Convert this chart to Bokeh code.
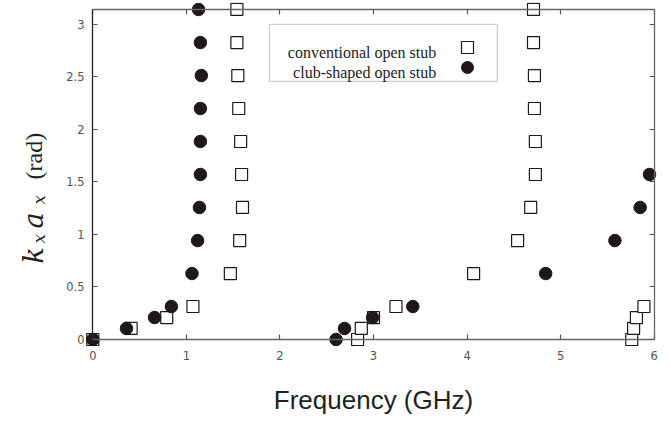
import math
from bokeh.plotting import figure
from bokeh.layouts import row
from bokeh.models import (Range1d, LinearAxis, FixedTicker, Label, BoxAnnotation,
                          Legend, LegendItem)
from bokeh.embed import file_html
from bokeh.resources import INLINE

# ---- data ----
conv_freq = [0.00, 0.41, 0.79, 1.07, 1.47, 1.57, 1.60, 1.59, 1.58, 1.56, 1.55, 1.54, 1.54,
             2.83, 2.87, 3.00, 3.24, 4.07, 4.54, 4.68, 4.73, 4.73, 4.72, 4.72, 4.71, 4.71,
             5.76, 5.78, 5.81, 5.89]
conv_kxax = [0.000, 0.105, 0.209, 0.314, 0.628, 0.942, 1.257, 1.571, 1.885, 2.199, 2.513, 2.827, 3.142,
             0.000, 0.105, 0.209, 0.314, 0.628, 0.942, 1.257, 1.571, 1.885, 2.199, 2.513, 2.827, 3.142,
             0.000, 0.105, 0.209, 0.314]
club_freq = [0.00, 0.36, 0.66, 0.84, 1.06, 1.12, 1.14, 1.15, 1.15, 1.15, 1.16, 1.15, 1.13,
             2.60, 2.69, 2.99, 3.42, 4.84, 5.58, 5.85, 5.95]
club_kxax = [0.000, 0.105, 0.209, 0.314, 0.628, 0.942, 1.257, 1.571, 1.885, 2.199, 2.513, 2.827, 3.142,
             0.000, 0.105, 0.209, 0.314, 0.628, 0.942, 1.257, 1.571]

x_ticks = [0, 1, 2, 3, 4, 5, 6]
x_tick_labels = ["0", "1", "2", "3", "4", "5", "6"]
y_ticks = [0, 0.5, 1, 1.5, 2, 2.5, 3]
y_tick_labels = ["0", "0.5", "1", "1.5", "2", "2.5", "3"]

series_names = ["conventional open stub", "club-shaped open stub"]
x_title = "Frequency (GHz)"

X_MIN, X_MAX = 0, 6
Y_MIN, Y_MAX = 0, math.pi

TITLE_W = 50
H = 418
FRAME_BOTTOM = 346  # page y of the (aligned) frame bottom

p = figure(frame_width=576, frame_height=344,
           x_range=Range1d(-0.078, 6.078), y_range=Range1d(-0.0667, 3.2083),
           output_backend="svg", toolbar_location=None,
           x_axis_location=None, y_axis_location=None,
           min_border_left=35, min_border_right=9, min_border_top=2, min_border_bottom=72)
p.outline_line_color = None
p.background_fill_color = "white"
p.border_fill_color = "white"
p.grid.visible = False

LABEL_COLOR = "#555555"
TICK_COLOR = "#555555"


def label_axis(ax, ticks, labels, standoff):
    ax.ticker = FixedTicker(ticks=ticks)
    ax.major_label_overrides = dict(zip(ticks, labels))
    ax.axis_line_color = None
    ax.major_tick_line_color = None
    ax.minor_tick_line_color = None
    ax.major_tick_in = 0
    ax.major_tick_out = 0
    ax.major_label_standoff = standoff
    ax.major_label_text_font = "DejaVu Sans"
    ax.major_label_text_font_size = "11.5px"
    ax.major_label_text_color = LABEL_COLOR


def edge_axis(ax, ticks, line_color):
    ax.ticker = FixedTicker(ticks=[], minor_ticks=ticks)
    ax.axis_line_color = line_color
    ax.axis_line_width = 1.3
    ax.major_tick_line_color = None
    ax.minor_tick_line_color = TICK_COLOR
    ax.minor_tick_line_width = 1.2
    ax.minor_tick_in = 5
    ax.minor_tick_out = 0
    ax.major_tick_in = 0
    ax.major_tick_out = 0
    ax.major_label_standoff = 0


# tick labels (at the frame edges)
xl = LinearAxis(bounds=(X_MIN, X_MAX + 0.1))
label_axis(xl, x_ticks, x_tick_labels, 4)
xl.axis_label = x_title
xl.axis_label_text_font = "Liberation Sans"
xl.axis_label_text_font_size = "26px"
xl.axis_label_text_font_style = "normal"
xl.axis_label_text_color = "#231f20"
xl.axis_label_standoff = 22
p.add_layout(xl, "below")

yl = LinearAxis(bounds=(Y_MIN, Y_MAX))
label_axis(yl, y_ticks, y_tick_labels, 1)
p.add_layout(yl, "left")

# axis lines + inward ticks along the data box
xb = LinearAxis(fixed_location=Y_MIN, bounds=(X_MIN, X_MAX))
edge_axis(xb, x_ticks, "#666666")
p.add_layout(xb, "below")

xt = LinearAxis(fixed_location=Y_MAX, bounds=(X_MIN, X_MAX))
edge_axis(xt, x_ticks, "#666666")
p.add_layout(xt, "above")

yb = LinearAxis(fixed_location=X_MIN, bounds=(Y_MIN, Y_MAX))
edge_axis(yb, y_ticks, "#222222")
p.add_layout(yb, "left")

yr = LinearAxis(fixed_location=X_MAX, bounds=(Y_MIN, Y_MAX))
edge_axis(yr, y_ticks, "#666666")
p.add_layout(yr, "right")

INK = "#1e1818"
r_conv = p.scatter(conv_freq, conv_kxax, marker="square", size=12,
                   fill_color="white", line_color=INK, line_width=1.2)
r_club = p.scatter(club_freq, club_kxax, marker="circle", size=12.5,
                   fill_color=INK, line_color=INK)

# legend box
box = BoxAnnotation(left=1.888, right=4.324, top=3.0, bottom=2.457,
                    fill_color="white", fill_alpha=1.0,
                    line_color="#555555", line_width=1.2, level="overlay")
p.add_layout(box)

for name, yb_ in zip(series_names, [293.7, 274.0]):
    p.add_layout(Label(x=350.7, y=yb_, x_units="screen", y_units="screen", text=name,
                       text_font="Liberation Serif", text_font_size="16px",
                       text_color="#222222", text_align="right",
                       text_baseline="alphabetic", level="overlay"))

for rend, loc in zip([r_conv, r_club], [(366.7, 284.0), (366.7, 264.3)]):
    leg = Legend(items=[LegendItem(label=" ", renderers=[rend])], location=loc,
                 glyph_width=30, glyph_height=30, padding=0, margin=0, spacing=0,
                 label_standoff=0, label_text_font_size="1px",
                 border_line_color=None, background_fill_alpha=0.0)
    p.add_layout(leg)

# y title in its own narrow panel: k_x a_x (rad)
tfig = figure(width=TITLE_W, height=H, x_range=Range1d(0, TITLE_W), y_range=Range1d(0, H),
              output_backend="svg", toolbar_location=None,
              x_axis_location=None, y_axis_location=None, min_border=0)
tfig.outline_line_color = None
tfig.grid.visible = False

ypart = [("k", 33, 263, "27px", "italic", "DejaVu Serif"),
         ("x", 38, 243, "17px", "italic", "DejaVu Serif"),
         ("a", 33, 228, "27px", "italic", "DejaVu Serif"),
         ("x", 38, 204, "17px", "italic", "DejaVu Serif"),
         ("(rad)", 33, 179, "24px", "normal", "Liberation Serif")]
for txt, xs, ys, fs, st, fnt in ypart:
    tfig.add_layout(Label(x=xs, y=FRAME_BOTTOM - ys, x_units="screen", y_units="screen",
                          text=txt, angle=math.pi / 2, text_font=fnt, text_font_size=fs,
                          text_font_style=st, text_color="#231f20",
                          text_align="left", text_baseline="alphabetic"))

layout = row(tfig, p)
open("out.html", "w").write(file_html(layout, INLINE))
